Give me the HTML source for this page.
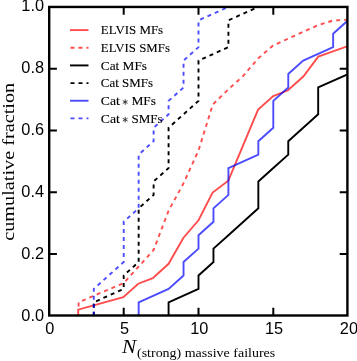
<!DOCTYPE html>
<html><head><meta charset="utf-8"><title>cumulative fraction</title>
<style>html,body{margin:0;padding:0;background:#fff;}body{width:357px;height:361px;overflow:hidden;}svg{display:block;}.s{font-family:"Liberation Sans",sans-serif;}text{filter:grayscale(1);}.r{font-family:"Liberation Serif",serif;}</style></head><body>
<svg width="357" height="361" viewBox="0 0 357 361">
<g>
<rect x="0" y="0" width="357" height="361" fill="#fff"/>
<defs><clipPath id="ax"><rect x="49.20" y="6.95" width="298.20" height="308.55"/></clipPath></defs>
<g clip-path="url(#ax)" fill="none" stroke-linejoin="miter" stroke-linecap="butt" stroke-width="1.9">
<polyline points="78.20,316.00 78.20,309.60 123.30,297.20 138.20,283.70 152.80,278.10 168.60,263.80 183.30,238.00 198.50,220.30 212.60,192.60 228.30,180.70 258.10,109.60 273.30,96.00 288.00,90.30 303.30,76.50 318.30,56.60 347.90,46.10 360.00,42.00" stroke="#ff0000" stroke-opacity="0.7"/>
<polyline points="78.60,306.60 78.60,302.30 123.70,283.00 138.70,266.50 153.60,250.00 168.50,211.00 183.40,183.50 198.40,150.80 212.80,104.50 228.20,89.50 243.10,76.00 258.10,58.50 273.00,45.50 287.90,38.80 302.80,32.00 317.70,25.40 332.70,20.60 347.90,19.60 360.00,19.00" stroke="#ff0000" stroke-opacity="0.7" stroke-dasharray="4 4"/>
<polyline points="168.58,315.75 168.58,302.32 198.50,288.89 198.50,275.47 213.46,262.04 213.46,248.61 228.42,235.18 243.38,221.75 258.34,208.32 258.34,194.90 258.34,181.47 273.30,168.04 288.26,154.61 288.26,141.18 303.22,127.75 318.18,114.33 318.18,100.90 318.18,87.47 348.10,74.04 363.06,60.61 378.02,47.18 392.98,33.76 407.94,20.33 422.90,6.90" stroke="#000"/>
<polyline points="93.78,315.75 93.78,302.32 123.70,288.89 123.70,275.47 138.66,262.04 138.66,248.61 138.66,235.18 138.66,221.75 138.66,208.32 153.62,194.90 153.62,181.47 168.58,168.04 168.58,154.61 168.58,141.18 168.58,127.75 183.54,114.33 198.50,100.90 198.50,87.47 198.50,74.04 198.50,60.61 228.42,47.18 228.42,33.76 228.42,20.33 258.34,6.90" stroke="#000" stroke-dasharray="4 4"/>
<polyline points="138.66,315.75 138.66,302.32 168.58,288.89 183.54,275.47 183.54,262.04 198.50,248.61 198.50,235.18 213.46,221.75 213.46,208.32 228.42,194.90 228.42,181.47 228.42,168.04 258.34,154.61 258.34,141.18 273.30,127.75 273.30,114.33 273.30,100.90 288.26,87.47 288.26,74.04 303.22,60.61 333.14,47.18 333.14,33.76 348.10,20.33 363.06,6.90" stroke="#0000ff" stroke-opacity="0.7"/>
<polyline points="93.78,315.75 93.78,302.32 93.78,288.89 108.74,275.47 123.70,262.04 123.70,248.61 123.70,235.18 123.70,221.75 138.66,208.32 138.66,194.90 138.66,181.47 138.66,168.04 138.66,154.61 153.62,141.18 153.62,127.75 168.58,114.33 168.58,100.90 183.54,87.47 183.54,74.04 183.54,60.61 198.50,47.18 198.50,33.76 198.50,20.33 228.42,6.90" stroke="#0000ff" stroke-opacity="0.7" stroke-dasharray="4 4"/>
</g>
<path d="M123.70 315.50V307.80M123.70 6.95V14.65M198.50 315.50V307.80M198.50 6.95V14.65M273.30 315.50V307.80M273.30 6.95V14.65M49.20 253.98H56.90M347.40 253.98H339.70M49.20 192.21H56.90M347.40 192.21H339.70M49.20 130.44H56.90M347.40 130.44H339.70M49.20 68.67H56.90M347.40 68.67H339.70" stroke="#000" stroke-width="2.0" fill="none"/>
<rect x="49.20" y="6.95" width="298.20" height="308.55" fill="none" stroke="#000" stroke-width="2.4"/>
<text class="s" x="44.0" y="320.80" font-size="16.0" text-anchor="end" textLength="22.68" lengthAdjust="spacingAndGlyphs">0.0</text>
<text class="s" x="44.0" y="258.80" font-size="16.0" text-anchor="end" textLength="22.68" lengthAdjust="spacingAndGlyphs">0.2</text>
<text class="s" x="44.0" y="196.80" font-size="16.0" text-anchor="end" textLength="22.68" lengthAdjust="spacingAndGlyphs">0.4</text>
<text class="s" x="44.0" y="134.80" font-size="16.0" text-anchor="end" textLength="22.68" lengthAdjust="spacingAndGlyphs">0.6</text>
<text class="s" x="44.0" y="72.80" font-size="16.0" text-anchor="end" textLength="22.68" lengthAdjust="spacingAndGlyphs">0.8</text>
<text class="s" x="44.0" y="10.90" font-size="16.0" text-anchor="end" textLength="22.68" lengthAdjust="spacingAndGlyphs">1.0</text>
<text class="s" x="49.70" y="334.4" font-size="16.0" text-anchor="middle" textLength="9.07" lengthAdjust="spacingAndGlyphs">0</text>
<text class="s" x="124.50" y="334.4" font-size="16.0" text-anchor="middle" textLength="9.07" lengthAdjust="spacingAndGlyphs">5</text>
<text class="s" x="199.30" y="334.4" font-size="16.0" text-anchor="middle" textLength="18.15" lengthAdjust="spacingAndGlyphs">10</text>
<text class="s" x="274.10" y="334.4" font-size="16.0" text-anchor="middle" textLength="18.15" lengthAdjust="spacingAndGlyphs">15</text>
<text class="s" x="348.90" y="334.4" font-size="16.0" text-anchor="middle" textLength="18.15" lengthAdjust="spacingAndGlyphs">20</text>
<text class="r" transform="translate(14.1,240.8) rotate(-90)" x="0" y="0" font-size="17.4" textLength="158" lengthAdjust="spacingAndGlyphs">cumulative fraction</text>
<text class="r" x="122.0" y="353.0" font-size="18.5" font-style="italic" textLength="14.2" lengthAdjust="spacingAndGlyphs">N</text>
<text class="r" x="137.0" y="357.4" font-size="13.5" textLength="138.2" lengthAdjust="spacingAndGlyphs">(strong) massive failures</text>
<line x1="70.00" y1="30.10" x2="88.5" y2="30.10" stroke="#ff0000" stroke-opacity="0.7" stroke-width="1.9"/>
<text class="r" x="100.8" y="34.20" textLength="62.3" font-size="13" lengthAdjust="spacingAndGlyphs" stroke="#000" stroke-width="0.12">ELVIS MFs</text>
<line x1="70.50" y1="47.76" x2="88.5" y2="47.76" stroke="#ff0000" stroke-opacity="0.7" stroke-width="1.9" stroke-dasharray="4 4"/>
<text class="r" x="100.8" y="51.86" textLength="69.1" font-size="13" lengthAdjust="spacingAndGlyphs" stroke="#000" stroke-width="0.12">ELVIS SMFs</text>
<line x1="70.00" y1="65.42" x2="88.5" y2="65.42" stroke="#000" stroke-opacity="1" stroke-width="1.9"/>
<text class="r" x="100.8" y="69.52" textLength="46.2" font-size="13" lengthAdjust="spacingAndGlyphs" stroke="#000" stroke-width="0.12">Cat MFs</text>
<line x1="70.50" y1="83.08" x2="88.5" y2="83.08" stroke="#000" stroke-opacity="1" stroke-width="1.9" stroke-dasharray="4 4"/>
<text class="r" x="100.8" y="87.18" textLength="52.2" font-size="13" lengthAdjust="spacingAndGlyphs" stroke="#000" stroke-width="0.12">Cat SMFs</text>
<line x1="70.00" y1="100.74" x2="88.5" y2="100.74" stroke="#0000ff" stroke-opacity="0.7" stroke-width="1.9"/>
<text class="r" x="100.8" y="104.84" textLength="19.0" font-size="13" lengthAdjust="spacingAndGlyphs" stroke="#000" stroke-width="0.12">Cat</text>
<path d="M125.20 99.64L125.20 104.44M123.12 100.84L127.28 103.24M123.12 103.24L127.28 100.84" stroke="#222" stroke-width="0.85" stroke-linecap="round" fill="none"/>
<text class="r" x="131.4" y="104.84" textLength="24.6" font-size="13" lengthAdjust="spacingAndGlyphs" stroke="#000" stroke-width="0.12">MFs</text>
<line x1="70.50" y1="118.40" x2="88.5" y2="118.40" stroke="#0000ff" stroke-opacity="0.7" stroke-width="1.9" stroke-dasharray="4 4"/>
<text class="r" x="100.8" y="122.50" textLength="19.0" font-size="13" lengthAdjust="spacingAndGlyphs" stroke="#000" stroke-width="0.12">Cat</text>
<path d="M125.20 117.30L125.20 122.10M123.12 118.50L127.28 120.90M123.12 120.90L127.28 118.50" stroke="#222" stroke-width="0.85" stroke-linecap="round" fill="none"/>
<text class="r" x="131.4" y="122.50" textLength="31.2" font-size="13" lengthAdjust="spacingAndGlyphs" stroke="#000" stroke-width="0.12">SMFs</text>
</g>
</svg></body></html>
